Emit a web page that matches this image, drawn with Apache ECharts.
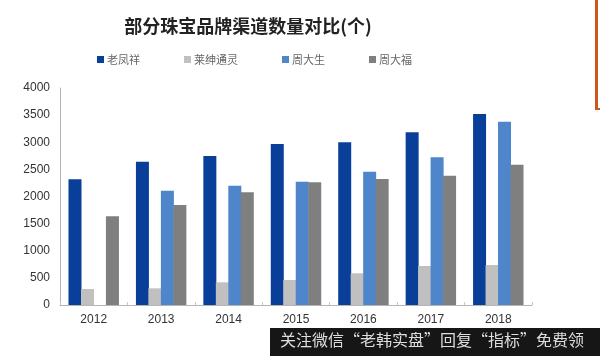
<!DOCTYPE html>
<html>
<head>
<meta charset="utf-8">
<script src="https://cdn.jsdelivr.net/npm/echarts@6/dist/echarts.min.js"></script>
<style>html,body{margin:0;padding:0;background:#fff;}#c{width:600px;height:356px;}</style>
</head>
<body>
<div id="c"></div>
<script>
const categories = ['2012','2013','2014','2015','2016','2017','2018'];
const seriesNames = ['老凤祥','莱绅通灵','周大生','周大福'];
const laofengxiang = [2317, 2641, 2746, 2968, 2999, 3183, 3521];
const laishentongling = [295, 307, 418, 461, 584, 719, 737];
const zhoudasheng = [null, 2107, 2200, 2273, 2458, 2722, 3379];
const zhoudafu = [1635, 1843, 2077, 2262, 2323, 2384, 2586];
const yTicks = [0, 500, 1000, 1500, 2000, 2500, 3000, 3500, 4000];
const colors = ['#0a3f99', '#c0c0c0', '#4f85cb', '#7f7f7f'];
const title = '部分珠宝品牌渠道数量对比(个)';
const watermark = '关注微信“老韩实盘”回复“指标”免费领';

const chart = echarts.init(document.getElementById('c'), null, {renderer: 'canvas'});
const dataSets = [laofengxiang, laishentongling, zhoudasheng, zhoudafu];
chart.setOption({
  animation: false,
  backgroundColor: '#fff',
  color: colors,
  title: {
    text: title, left: 243, top: 12, textAlign: 'center',
    textStyle: {fontFamily: 'Noto Sans CJK SC', fontSize: 18, fontWeight: 'bold', color: '#222'}
  },
  legend: {
    left: 92, top: 49, itemWidth: 7, itemHeight: 7, itemGap: 44,
    icon: 'rect',
    textStyle: {fontFamily: 'Noto Sans CJK SC', fontSize: 11, color: '#666', padding: [0,0,0,-2]},
    data: seriesNames
  },
  grid: {left: 60, right: 68, top: 88, bottom: 51},
  xAxis: {
    type: 'category', data: categories,
    axisLine: {lineStyle: {color: '#b5b5b5'}},
    axisTick: {show: true, inside: true, length: 3, lineStyle: {color: '#c8c8c8'}},
    axisLabel: {color: '#333', fontSize: 12, fontFamily: 'Liberation Sans', margin: 9}
  },
  yAxis: {
    type: 'value', min: yTicks[0], max: yTicks[yTicks.length-1], interval: 500,
    axisLine: {show: true, lineStyle: {color: '#b5b5b5'}},
    axisTick: {show: false},
    splitLine: {show: false},
    axisLabel: {color: '#333', fontSize: 12, fontFamily: 'Liberation Sans', margin: 10,
      formatter: v => String(v)}
  },
  series: dataSets.map((d, i) => ({
    name: seriesNames[i], type: 'bar', data: d,
    barWidth: 13, barGap: '-4%', barCategoryGap: '24%',
    itemStyle: {color: colors[i]}
  })),
  graphic: [
    {type: 'rect', shape: {x: 595, y: 0, width: 3, height: 110}, style: {fill: '#d2561c'}},
    {type: 'rect', shape: {x: 595, y: 108, width: 5, height: 2}, style: {fill: '#d2561c'}},
    {type: 'rect', shape: {x: 270, y: 328, width: 330, height: 28}, style: {fill: '#161616'}},
    {type: 'text', left: 280, top: 332, style: {text: watermark, fill: '#dedede', font: '16px "Noto Sans CJK SC"'}}
  ]
});
</script>
</body>
</html>
